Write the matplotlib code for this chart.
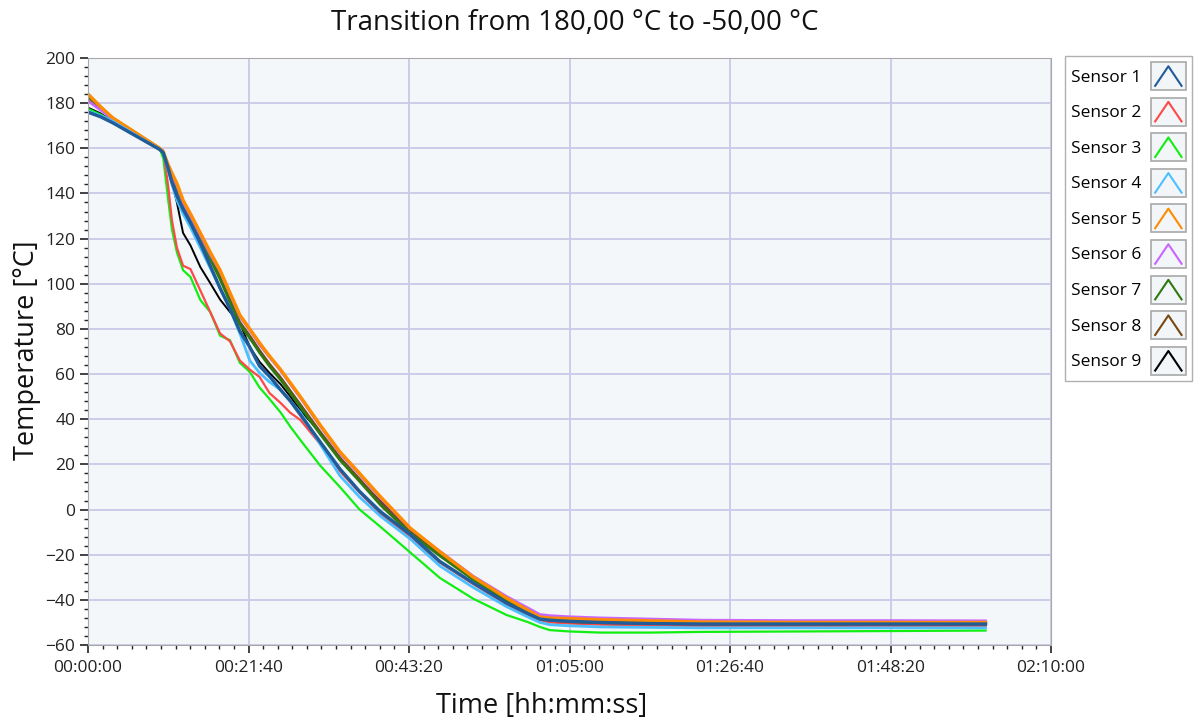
import matplotlib
matplotlib.use("Agg")
import matplotlib.pyplot as plt
from matplotlib.lines import Line2D
from matplotlib.patches import Rectangle
from matplotlib.legend_handler import HandlerBase
from matplotlib.ticker import MultipleLocator, AutoMinorLocator, FuncFormatter

plt.rcParams['font.family'] = ['Open Sans', 'DejaVu Sans']

# time in seconds
time_s = [0, 100, 200, 580, 610, 650, 680, 720, 770, 830, 910, 990, 1070, 1150,
          1230, 1310, 1390, 1470, 1560, 1640, 1720, 1880, 2040, 2200, 2370, 2610,
          2850, 3120, 3390, 3560, 3660, 3740, 3900, 4150, 4550, 4960, 5770, 6580, 7270]

sensor1 = [176, 174, 171.3, 159.5, 158, 151, 145, 139, 133, 127, 118, 108, 98, 89,
           79, 72, 63.5, 59, 53, 48, 42, 30, 18, 8, -1, -11, -23, -32.5, -41.4, -46,
           -48.5, -49, -49.5, -50, -50.5, -50.7, -50.7, -50.7, -50.7]
sensor2 = [182, 177.5, 173, 160, 159, 143, 128, 116, 108, 106.5, 97, 87.5, 78, 74.5,
           66, 62, 58.7, 51.6, 47.2, 42.8, 39.7, 29, 17, 7.5, -2, -12, -23.5, -33, -42,
           -46.5, -49, -50, -50.5, -51, -51.3, -51.6, -51.6, -51.6, -51.6]
sensor3 = [177.5, 175, 172, 160, 155.5, 137, 124, 114, 106, 103, 92.8, 87.5, 77, 75,
           65, 61, 54, 49, 43, 36.6, 30.8, 19.5, 10, 0, -7.7, -19, -30.3, -39.5, -46.7,
           -49.8, -52, -53.4, -54, -54.5, -54.5, -54.2, -54, -53.8, -53.6]
sensor4 = [176.5, 174.5, 172, 159.5, 158, 150, 144, 137, 131, 125, 116, 107, 98, 89,
           78, 66, 60.5, 56.5, 53, 48, 43, 29, 15, 5.5, -3, -13, -25, -34.5, -43, -47.5,
           -50, -51, -51.5, -52, -52.2, -52.4, -52.4, -52.4, -52.4]
sensor5 = [184, 178.5, 173.5, 160, 158.4, 152.7, 149, 144.5, 137, 131, 122.5, 114, 106, 96,
           86.2, 80, 73.8, 68, 62, 56, 50, 37.5, 25.6, 16, 5.6, -8.2, -18.7, -29.9, -39.2,
           -44.5, -47.6, -48.1, -48.3, -48.8, -49.3, -49.8, -50, -50, -50]
sensor6 = [181, 177, 173, 160, 158, 152, 148, 143.5, 136, 130, 121.5, 113, 105.5, 95.5,
           85.5, 79.5, 73, 67.5, 61.5, 55.5, 49.5, 37, 25, 15.5, 5, -8.5, -18.5, -29.5,
           -38.5, -43.5, -46.5, -47, -47.5, -48, -48.5, -49, -49.2, -49.2, -49.3]
sensor7 = [183, 178, 173.2, 160, 158, 151.5, 147, 142, 134, 128, 119, 111, 102, 92,
           82, 76, 69.5, 63.5, 57.5, 51.5, 45.5, 33.5, 22, 12.5, 2, -10.5, -20.5, -31, -40,
           -45, -48, -48.8, -49.5, -50, -50.2, -50.5, -50.5, -50.5, -50.5]
sensor8 = [184, 178.5, 173.5, 160, 158, 151.5, 147, 142.5, 135, 129, 120, 112, 103, 93,
           83, 77, 70.5, 64.5, 58.5, 52.5, 46.5, 34.5, 23, 13.5, 3, -10, -20, -30.5, -40,
           -45, -48, -49, -49.8, -50.2, -50.5, -50.8, -50.8, -50.8, -50.8]
sensor9 = [178, 175.5, 172, 159.5, 158, 151, 145, 136, 122.5, 117, 107.4, 100.3, 93, 87.5,
           82.6, 72, 65.4, 60.5, 55.5, 50, 44, 34, 23, 13, 3.5, -9.5, -20, -31, -40.5,
           -45.5, -48, -48.8, -49.5, -50, -50.3, -50.5, -50.5, -50.5, -50.5]

names = ['Sensor %d' % i for i in range(1, 10)]
series = [sensor1, sensor2, sensor3, sensor4, sensor5, sensor6, sensor7, sensor8, sensor9]
colors = ['#1f5c99', '#ff4848', '#11ee11', '#4cc0ff', '#ff8c00', '#c866ff',
          '#2f7a10', '#7a4714', '#000000']
widths = [2.4, 1.6, 1.6, 2.0, 2.4, 2.0, 2.0, 1.8, 1.4]
draw_order = [8, 2, 1, 7, 6, 5, 4, 3, 0]


class CaretHandler(HandlerBase):
    def create_artists(self, legend, orig_handle, xdescent, ydescent,
                       width, height, fontsize, trans):
        x0, y0 = -xdescent, -ydescent
        box = Rectangle((x0, y0), width, height, facecolor='#f3f6f8',
                        edgecolor='#a8a8a8', lw=1.2, transform=trans)
        caret = Line2D([x0 + 0.12 * width, x0 + 0.5 * width, x0 + 0.88 * width],
                       [y0 + 0.15 * height, y0 + 0.85 * height, y0 + 0.15 * height],
                       color=orig_handle.get_color(), lw=1.5, transform=trans)
        return [box, caret]


fig = plt.figure(figsize=(11.95, 7.24), dpi=100)
ax = fig.add_axes([88 / 1195, 1 - 645 / 724, (1051 - 88) / 1195, (645 - 58) / 724])
ax.set_facecolor('#f3f7f9')

handles = [None] * 9
for i in draw_order:
    ln, = ax.plot(time_s, series[i], color=colors[i], lw=widths[i], label=names[i])
    handles[i] = ln

ax.set_xlim(0, 7800)
ax.set_ylim(-60, 200)
ax.xaxis.set_major_locator(MultipleLocator(1300))
ax.xaxis.set_minor_locator(AutoMinorLocator(11))
ax.yaxis.set_major_locator(MultipleLocator(20))
ax.yaxis.set_minor_locator(AutoMinorLocator(5))


def hms(v, pos):
    v = int(round(v))
    return '%02d:%02d:%02d' % (v // 3600, v % 3600 // 60, v % 60)


ax.xaxis.set_major_formatter(FuncFormatter(hms))
ax.grid(True, which='major', color='#c9c9e9', lw=1.3)
ax.set_axisbelow(True)
ax.tick_params(which='major', length=6, width=1.2, labelsize=12.5, colors='#222222')
ax.tick_params(which='minor', length=3, width=1.0, colors='#222222')
ax.tick_params(axis='x', pad=5)
ax.tick_params(axis='y', pad=3)
for s in ax.spines.values():
    s.set_color('#a8a8a8')

fig.text(575 / 1195, 1 - 23 / 724, 'Transition from 180,00 °C to -50,00 °C',
         fontsize=20, ha='center', va='center', color='#111111')
fig.text(542 / 1195, 1 - 706 / 724, 'Time [hh:mm:ss]',
         fontsize=19.5, ha='center', va='center', color='#111111')
fig.text(27 / 1195, 1 - 350 / 724, 'Temperature [°C]', rotation=90,
         fontsize=19.5, ha='center', va='center', color='#111111')

leg = fig.legend(handles=handles, labels=names, loc='upper left',
                 bbox_to_anchor=(1065 / 1195, 1 - 56 / 724),
                 handler_map={Line2D: CaretHandler()}, markerfirst=False,
                 fontsize=12.5, handlelength=2.0, handleheight=2.1,
                 labelspacing=0.44, handletextpad=0.55, borderpad=0.35,
                 borderaxespad=0, fancybox=False, framealpha=1,
                 edgecolor='#b0b0b0')
leg.get_frame().set_linewidth(1.0)

fig.savefig('out.png', dpi=100)
